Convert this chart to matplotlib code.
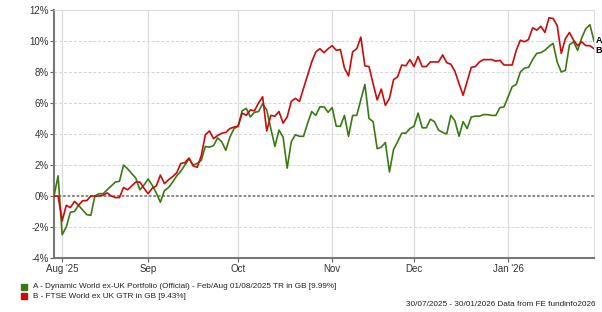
import matplotlib
matplotlib.use('Agg')
import matplotlib.pyplot as plt
import numpy as np
import pandas as pd

plt.rcParams['font.family'] = ['Liberation Sans', 'DejaVu Sans']

# daily (weekday) cumulative performance, %
dates = pd.bdate_range('2025-07-30', '2026-01-30')

fund_a = [0, 1.3, -2.5, -2.0, -1.05, -1.0, -0.6, -0.9, -1.2, -1.25,
          0, 0.15, 0.15, 0.4, 0.65, 0.9, 0.95, 2.0, 1.75, 1.45,
          1.15, 0.4, 0.7, 1.1, 0.7, 0.2, -0.4, 0.35, 0.55, 0.9,
          1.3, 1.6, 2.0, 2.4, 2.0, 2.1,
          2.3, 3.2, 3.15, 3.25, 3.75, 3.5, 2.95, 3.8, 4.35, 4.5,
          5.5, 5.65, 5.1, 5.4, 5.45, 5.95, 5.55, 4.35, 3.2, 4.25,
          3.8, 1.8, 3.5, 3.95, 3.85, 3.85, 4.7, 5.45, 5.2, 5.75,
          5.75, 5.4, 5.7, 4.5, 4.5, 5.2, 3.85, 5.2, 5.2, 6.2,
          7.2, 5.0, 4.8, 3.05, 3.15, 3.45, 1.55, 3.0, 3.5,
          4.05, 4.05, 4.35, 4.5, 5.35, 4.4, 4.4, 4.95, 4.8, 4.25,
          4.1, 4.0, 5.2, 4.85, 3.85, 4.8, 4.35, 5.1, 5.15, 5.15,
          5.25, 5.25, 5.2, 5.2, 5.7, 5.75, 6.4, 7.05, 7.2, 8.0,
          8.25, 8.3, 8.8, 9.2, 9.25, 9.4, 9.65, 9.85, 8.65, 8.0,
          8.1, 9.75, 9.95, 9.4, 10.2, 10.8, 11.05, 10.0]

index_b = [0, 0, -1.6, -0.6, -0.75, -0.35, -0.6, -0.3, -0.3, 0.0,
           0.0, 0.0, 0.05, 0.2, 0.0, -0.1, -0.1, 0.55, 0.4, 0.65,
           0.9, 0.9, 0.5, 0.15, 0.5, 0.65, 1.35, 0.8, 1.05, 1.25,
           1.5, 2.1, 2.15, 2.45, 1.95, 1.85,
           2.6, 3.95, 4.2, 3.7, 3.9, 4.05, 4.1, 4.35, 4.45, 4.5,
           5.35, 5.2, 5.55, 5.5, 6.0, 6.4, 4.2, 5.2, 5.15, 5.45,
           4.7, 5.1, 6.1, 6.3, 6.1, 6.95, 7.8, 8.65, 9.3, 9.5,
           9.25, 9.5, 9.7, 9.4, 9.45, 8.25, 7.75, 9.3, 9.5, 10.25,
           8.4, 8.35, 7.25, 6.2, 6.9, 5.85, 6.3, 7.5, 7.7,
           8.45, 8.4, 8.8, 8.35, 9.0, 8.35, 8.35, 8.65, 8.65, 8.65,
           9.1, 8.6, 8.5, 8.05, 7.25, 6.5, 7.4, 8.3, 8.35, 8.65,
           8.8, 8.8, 8.8, 8.7, 8.75, 8.45, 8.45, 8.45, 9.4, 10.05,
           9.95, 10.1, 10.85, 10.7, 10.95, 10.55, 11.5, 11.45, 11.0, 9.2,
           10.15, 10.55, 10.05, 9.7, 9.95, 9.7, 9.7, 9.5]

labels = ['A - Dynamic World ex-UK Portfolio (Official) - Feb/Aug 01/08/2025 TR in GB [9.99%]',
          'B - FTSE World ex UK GTR in GB [9.43%]']
month_names = ["Aug '25", 'Sep', 'Oct', 'Nov', 'Dec', "Jan '26"]
yticks = [-4, -2, 0, 2, 4, 6, 8, 10, 12]

green = '#3a7a14'
red = '#cc0a0a'

x = np.arange(len(dates))
# first trading day of each month after the start
month_pos = [i for i in range(1, len(dates)) if dates[i].month != dates[i - 1].month]

fig = plt.figure(figsize=(6.02, 3.12), dpi=100)
ax = fig.add_axes([54/602, 1 - 258/312, (594 - 54)/602, 248/312])

for yv in yticks:
    if yv == 0:
        ax.axhline(0, color='#808080', lw=1.3, ls=(0, (1.5, 1)), zorder=1)
    else:
        ax.axhline(yv, color='#d4d4d4', lw=0.7, ls=(0, (3, 2)), zorder=0)
for p in month_pos:
    ax.axvline(p, color='#dcdcdc', lw=0.9, zorder=0)

ax.plot(x, fund_a, color=green, lw=1.2, zorder=3)
ax.plot(x, index_b, color=red, lw=1.2, zorder=3)

ax.set_xlim(0, len(dates) - 1)
ax.set_ylim(-4, 12)
ax.set_yticks(yticks)
ax.set_yticklabels([f'{v}%' for v in yticks], fontsize=7, color='#333333')
ax.set_xticks(month_pos)
ax.set_xticklabels(month_names, fontsize=7, color='#333333')
ax.tick_params(axis='both', length=3, width=0.8, color='#666666', pad=1)

ax.spines['left'].set_color('#777777')
ax.spines['left'].set_linewidth(1.5)
ax.spines['bottom'].set_color('#777777')
ax.spines['bottom'].set_linewidth(1.5)
ax.spines['top'].set_color('#dddddd')
ax.spines['right'].set_color('#dddddd')

# end labels
ax.text(len(dates) - 0.6, fund_a[-1] + 0.05, 'A', fontsize=6.5, fontweight='bold',
        va='center', ha='left', clip_on=False)
ax.text(len(dates) - 0.6, fund_a[-1] - 0.6, 'B', fontsize=6.5, fontweight='bold',
        va='center', ha='left', clip_on=False)

# legend
for k, (lab, col) in enumerate(zip(labels, [green, red])):
    yy = 1 - (287 + 9 * k) / 312
    fig.patches.append(plt.Rectangle((21/602, yy - 3/312), 6/602, 6/312,
                                     transform=fig.transFigure, color=col))
    fig.text(33/602, yy, lab, fontsize=5.9, va='center', ha='left', color='#222222')

fig.text(595/602, 1 - 305/312, '30/07/2025 - 30/01/2026 Data from FE fundinfo2026',
         fontsize=5.9, va='center', ha='right', color='#222222')

fig.savefig('out.png', dpi=100)
